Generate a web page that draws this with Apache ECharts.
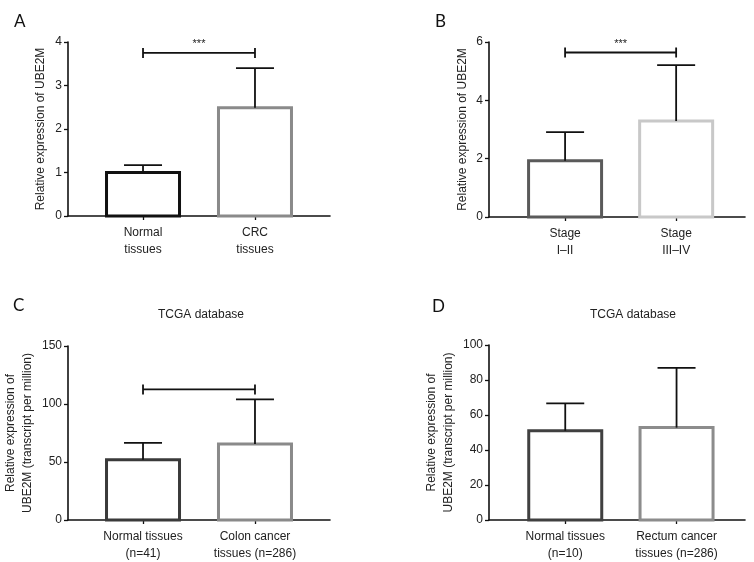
<!DOCTYPE html>
<html>
<head>
<meta charset="utf-8">
<script src="https://cdn.jsdelivr.net/npm/echarts@6/dist/echarts.min.js"></script>
<style>html,body{margin:0;padding:0;background:#fff}#c{width:754px;height:562px}</style>
</head>
<body>
<div id="c"></div>
<script>
// ---------- data ----------
const panelLetters = ['A', 'B', 'C', 'D'];
const panelTitles = ['', '', 'TCGA database', 'TCGA database'];
const yAxisNames = [
  'Relative expression of UBE2M',
  'Relative expression of UBE2M',
  'Relative expression of\nUBE2M (transcript per million)',
  'Relative expression of\nUBE2M (transcript per million)'
];
const catsA = ['Normal\ntissues', 'CRC\ntissues'];
const catsB = ['Stage\nI\u2013II', 'Stage\nIII\u2013IV'];
const catsC = ['Normal tissues\n(n=41)', 'Colon cancer\ntissues (n=286)'];
const catsD = ['Normal tissues\n(n=10)', 'Rectum cancer\ntissues (n=286)'];

const meansA = [1.0, 2.49];
const errA = [0.17, 0.91];
const meansB = [1.93, 3.29];
const errB = [0.98, 1.92];
const meansC = [52, 65.5];
const errC = [14.5, 38.5];
const meansD = [51, 52.8];
const errD = [15.7, 34.1];

const yMaxes = [4, 6, 150, 100];
const yIntervals = [1, 2, 50, 20];

// significance brackets: [from category index, to category index, y value, label]
const sigA = [[1, 2, 3.75, '***']];
const sigB = [[1, 2, 5.64, '***']];
const sigC = [[1, 2, 112.6, '']];
const sigD = [];

// ---------- styles / layout ----------
const FONT = '"Liberation Sans", Arial, sans-serif';
const barColors = [
  ['#111111', '#8a8a8a'],
  ['#5a5a5a', '#c8c8c8'],
  ['#3a3a3a', '#8a8a8a'],
  ['#404040', '#8c8c8c']
];
const grids = [
  { left: 68, top: 42, width: 262, height: 174 },
  { left: 489, top: 42, width: 256, height: 175 },
  { left: 68, top: 346, width: 262, height: 174 },
  { left: 489, top: 345, width: 256, height: 175 }
];
const xRanges = [[0.33, 2.67], [0.315, 2.62], [0.33, 2.67], [0.315, 2.615]];
const nameGaps = [19, 18, 32, 32];
const letterPos = [[9, 8], [430, 8], [8, 292], [427, 293]];
const titlePos = [[196, 304], [0, 0], [196, 304], [628, 304]];

const panels = [
  { cats: catsA, means: meansA, err: errA, sig: sigA },
  { cats: catsB, means: meansB, err: errB, sig: sigB },
  { cats: catsC, means: meansC, err: errC, sig: sigC },
  { cats: catsD, means: meansD, err: errD, sig: sigD }
];

const option = { animation: false, backgroundColor: '#fff', grid: [], xAxis: [], yAxis: [], series: [], title: [] };

panels.forEach((p, i) => {
  option.grid.push(Object.assign({ containLabel: false }, grids[i]));
  option.xAxis.push({
    type: 'value', gridIndex: i, min: xRanges[i][0], max: xRanges[i][1],
    axisLine: { show: true, onZero: false, lineStyle: { color: '#111', width: 1.6 } },
    axisTick: { show: true, customValues: [1, 2], length: 4, lineStyle: { color: '#111', width: 1.3 } },
    axisLabel: {
      customValues: [1, 2], margin: 8, fontSize: 12, lineHeight: 17, color: '#222', fontFamily: FONT,
      formatter: v => p.cats[Math.round(v) - 1] || ''
    },
    splitLine: { show: false }
  });
  option.yAxis.push({
    type: 'value', gridIndex: i, min: 0, max: yMaxes[i], interval: yIntervals[i],
    name: yAxisNames[i], nameLocation: 'middle', nameGap: nameGaps[i], nameRotate: 90,
    nameTextStyle: { fontSize: 12, lineHeight: 17, color: '#222', fontFamily: FONT },
    axisLine: { show: true, lineStyle: { color: '#111', width: 1.6 } },
    axisTick: { show: true, length: 4, lineStyle: { color: '#111', width: 1.3 } },
    axisLabel: { margin: 6, fontSize: 12, color: '#222', fontFamily: FONT },
    splitLine: { show: false }
  });
  // bars
  option.series.push({
    type: 'custom', xAxisIndex: i, yAxisIndex: i, z: 2,
    data: p.means.map((m, k) => [k + 1, m]),
    renderItem: (params, api) => {
      const top = api.coord([api.value(0), api.value(1)]);
      const bot = api.coord([api.value(0), 0]);
      const w = 73;
      return {
        type: 'rect',
        shape: { x: top[0] - w / 2, y: top[1], width: w, height: bot[1] - top[1] },
        style: { fill: '#fff', stroke: barColors[i][params.dataIndex], lineWidth: 3 }
      };
    }
  });
  // error bars
  option.series.push({
    type: 'custom', xAxisIndex: i, yAxisIndex: i, z: 3,
    data: p.means.map((m, k) => [k + 1, m, m + p.err[k]]),
    renderItem: (params, api) => {
      const a = api.coord([api.value(0), api.value(1)]);
      const b = api.coord([api.value(0), api.value(2)]);
      const hw = 19;
      const st = { stroke: '#111', lineWidth: 1.8 };
      return {
        type: 'group', children: [
          { type: 'line', shape: { x1: a[0], y1: a[1], x2: b[0], y2: b[1] }, style: st },
          { type: 'line', shape: { x1: b[0] - hw, y1: b[1], x2: b[0] + hw, y2: b[1] }, style: st }
        ]
      };
    }
  });
  // significance bracket
  if (p.sig.length) {
    option.series.push({
      type: 'custom', xAxisIndex: i, yAxisIndex: i, z: 3,
      data: p.sig.map(s => [s[0], s[1], s[2]]),
      renderItem: (params, api) => {
        const l = api.coord([api.value(0), api.value(2)]);
        const r = api.coord([api.value(1), api.value(2)]);
        const st = { stroke: '#111', lineWidth: 1.8 };
        const txt = p.sig[params.dataIndex][3];
        return {
          type: 'group', children: [
            { type: 'line', shape: { x1: l[0], y1: l[1], x2: r[0], y2: r[1] }, style: st },
            { type: 'line', shape: { x1: l[0], y1: l[1] - 5, x2: l[0], y2: l[1] + 5 }, style: st },
            { type: 'line', shape: { x1: r[0], y1: r[1] - 5, x2: r[0], y2: r[1] + 5 }, style: st },
            { type: 'text', x: (l[0] + r[0]) / 2, y: l[1] - 3,
              style: { text: txt, fill: '#222', font: '11px ' + FONT, align: 'center', verticalAlign: 'bottom' } }
          ]
        };
      }
    });
  }
  option.title.push({
    text: panelLetters[i], left: letterPos[i][0], top: letterPos[i][1],
    textStyle: { fontSize: 17, fontWeight: 'normal', color: '#111', fontFamily: 'Lato, "Open Sans", sans-serif' }
  });
  if (panelTitles[i]) {
    option.title.push({
      text: panelTitles[i], left: titlePos[i][0], top: titlePos[i][1], textAlign: 'center',
      textStyle: { fontSize: 12, fontWeight: 'normal', color: '#222', fontFamily: FONT }
    });
  }
});

const chart = echarts.init(document.getElementById('c'), null, { renderer: 'canvas' });
chart.setOption(option);
</script>
</body>
</html>
